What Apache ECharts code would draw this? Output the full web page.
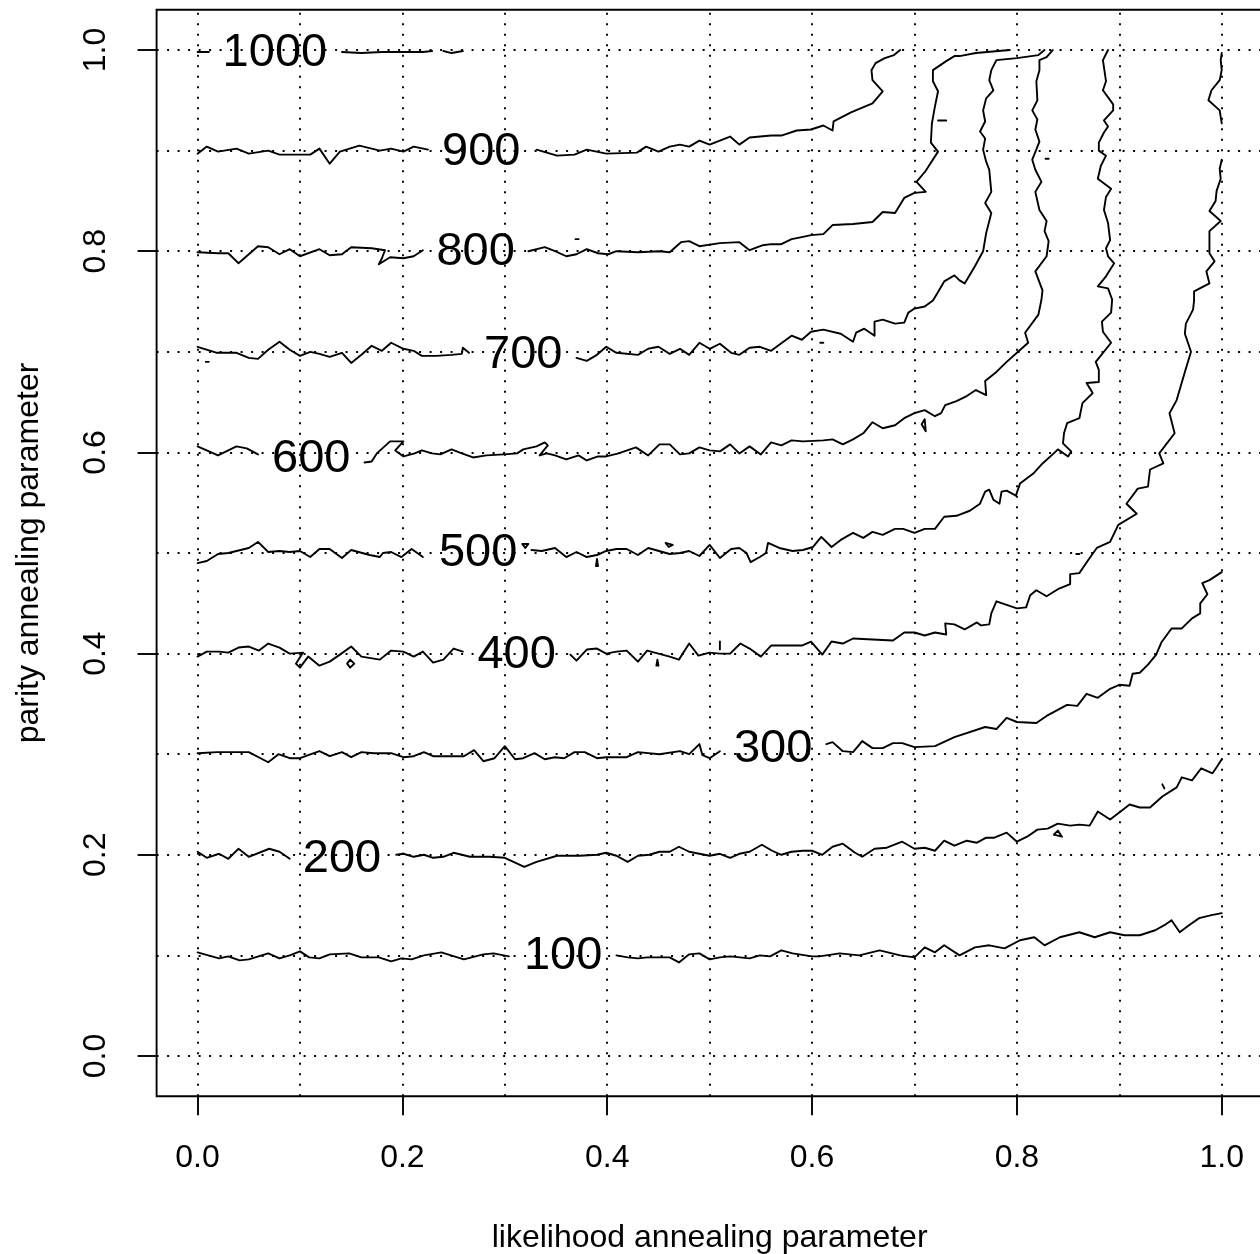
<!DOCTYPE html>
<html>
<head>
<meta charset="utf-8">
<script src="https://cdn.jsdelivr.net/npm/echarts@6/dist/echarts.min.js"></script>
<style>
html,body{margin:0;padding:0;background:#fff;}
#chart{width:1260px;height:1254px;}
</style>
</head>
<body>
<div id="chart"></div>
<script>
// ---- axis ticks and grid positions ----
const xTicks = [0, 0.2, 0.4, 0.6, 0.8, 1.0];
const yTicks = [0, 0.2, 0.4, 0.6, 0.8, 1.0];
const gridX = [0, 0.1, 0.2, 0.3, 0.4, 0.5, 0.6, 0.7, 0.8, 0.9, 1.0];
const gridY = [0, 0.1, 0.2, 0.3, 0.4, 0.5, 0.6, 0.7, 0.8, 0.9, 1.0];

// ---- contour labels: [x, y, level] ----
const contourLabels = [
  [0.0755, 0.997, '1000'], [0.277, 0.899, '900'], [0.2715, 0.799, '800'],
  [0.318, 0.697, '700'], [0.111, 0.593, '600'], [0.274, 0.500, '500'],
  [0.3115, 0.399, '400'], [0.562, 0.305, '300'], [0.141, 0.196, '200'],
  [0.357, 0.099, '100']
];

// ---- contour level 100 ----
const c100a = [[0,.103],[.021,.097],[.030,.099],[.041,.095],[.050,.096],[.069,.102],[.080,.097],[.090,.100],[.100,.104],[.109,.098],[.119,.097],[.129,.101],[.148,.102],[.160,.098],[.177,.098],[.189,.094],[.199,.097],[.209,.096],[.221,.100],[.238,.103],[.260,.096],[.279,.101],[.289,.102],[.304,.099]];
const c100b = [[.409,.100],[.420,.098],[.430,.097],[.439,.098],[.451,.098],[.461,.098],[.470,.093],[.480,.101],[.490,.102],[.500,.096],[.510,.098],[.520,.099],[.539,.097],[.549,.100],[.559,.099],[.570,.105],[.581,.102],[.600,.099],[.607,.099],[.627,.102],[.646,.100],[.666,.105],[.686,.100],[.700,.098],[.710,.108],[.720,.103],[.729,.110],[.744,.100],[.759,.108],[.773,.110],[.788,.107],[.803,.115],[.817,.118],[.827,.110],[.842,.118],[.861,.123],[.876,.118],[.891,.123],[.905,.120],[.920,.120],[.935,.125],[.944,.130],[.951,.135],[.959,.123],[.968,.130],[.978,.137],[.990,.140],[1.0,.142]];

// ---- contour level 200 ----
const c200a = [[0,.203],[.009,.197],[.021,.201],[.030,.196],[.040,.206],[.050,.198],[.070,.206],[.080,.203],[.090,.196]];
const c200b = [[.194,.200],[.201,.201],[.211,.198],[.221,.200],[.230,.197],[.240,.198],[.250,.202],[.266,.198],[.285,.198],[.300,.197],[.319,.188],[.331,.193],[.351,.199],[.373,.199],[.390,.200],[.399,.202],[.409,.199],[.420,.193],[.430,.199],[.441,.200],[.451,.203],[.461,.203],[.470,.208],[.480,.203],[.490,.201],[.500,.199],[.510,.201],[.520,.197],[.529,.201],[.539,.203],[.551,.210],[.561,.204],[.570,.200],[.580,.203],[.591,.204],[.600,.204],[.610,.200],[.620,.208],[.630,.211],[.642,.202],[.649,.198],[.661,.206],[.673,.207],[.688,.213],[.700,.206],[.710,.207],[.720,.204],[.729,.214],[.739,.209],[.751,.214],[.761,.212],[.770,.217],[.778,.217],[.790,.222],[.800,.213],[.810,.218],[.820,.225],[.830,.226],[.840,.231],[.852,.229],[.861,.230],[.871,.229],[.879,.243],[.891,.235],[.900,.242],[.910,.250],[.920,.247],[.930,.247],[.942,.258],[.956,.267],[.961,.277],[.971,.274],[.980,.286],[.991,.281],[.995,.287],[1.0,.295]];

// ---- contour level 300 ----
const c300a = [[0,.301],[.019,.302],[.038,.302],[.050,.302],[.069,.292],[.079,.300],[.090,.296],[.100,.296],[.119,.303],[.129,.298],[.141,.302],[.150,.297],[.160,.302],[.172,.301],[.189,.301],[.201,.297],[.211,.298],[.221,.302],[.230,.298],[.260,.298],[.270,.304],[.279,.293],[.290,.296],[.300,.308],[.310,.295],[.318,.296],[.329,.301],[.339,.295],[.349,.297],[.358,.296],[.368,.302],[.378,.302],[.390,.296],[.399,.297],[.419,.297],[.430,.302],[.451,.300],[.471,.303],[.480,.300],[.490,.310],[.493,.299],[.500,.296],[.510,.303]];
const c300b = [[.614,.310],[.620,.312],[.630,.303],[.640,.302],[.649,.313],[.659,.306],[.669,.306],[.679,.311],[.688,.311],[.700,.307],[.720,.308],[.739,.317],[.769,.327],[.780,.325],[.790,.336],[.800,.332],[.819,.331],[.829,.338],[.849,.349],[.859,.348],[.868,.360],[.879,.356],[.891,.365],[.900,.369],[.910,.368],[.913,.380],[.920,.381],[.928,.389],[.936,.399],[.941,.411],[.951,.425],[.961,.425],[.971,.435],[.979,.440],[.979,.450],[.986,.459],[.981,.470],[.988,.473],[1.0,.481]];

// ---- contour level 400 ----
const c400a = [[0,.397],[.009,.402],[.021,.402],[.030,.401],[.040,.406],[.050,.407],[.060,.403],[.069,.410],[.080,.406],[.090,.400],[.103,.401],[.096,.390],[.100,.386],[.108,.397],[.119,.388],[.129,.392],[.139,.399],[.150,.407],[.160,.397],[.178,.394],[.189,.403],[.201,.402],[.211,.397],[.220,.402],[.230,.391],[.240,.394],[.250,.405],[.259,.402]];
const c400b = [[.364,.399],[.370,.393],[.380,.404],[.390,.405],[.399,.400],[.409,.402],[.419,.403],[.430,.392],[.439,.403],[.461,.397],[.470,.394],[.480,.410],[.489,.398],[.500,.401],[.510,.400],[.520,.400],[.530,.410],[.539,.405],[.550,.397],[.560,.408],[.590,.408],[.599,.412],[.610,.399],[.619,.412],[.630,.410],[.640,.415],[.659,.414],[.679,.413],[.690,.421],[.700,.421],[.710,.418],[.720,.421],[.731,.419],[.730,.430],[.739,.429],[.749,.424],[.761,.431],[.765,.428],[.773,.429],[.775,.440],[.780,.452],[.800,.445],[.809,.446],[.813,.458],[.819,.463],[.829,.457],[.840,.464],[.852,.469],[.852,.479],[.861,.480],[.869,.492],[.878,.505],[.891,.511],[.899,.528],[.917,.539],[.907,.549],[.918,.564],[.928,.566],[.930,.583],[.943,.589],[.939,.599],[.954,.619],[.949,.639],[.956,.652],[.964,.680],[.970,.700],[.964,.718],[.965,.728],[.972,.742],[.973,.751],[.973,.760],[.988,.768],[.985,.780],[.993,.790],[.988,.798],[.988,.820],[.999,.830],[.988,.840],[.994,.850],[.995,.860],[.999,.872],[.998,.882],[1.0,.891]];
const c400c = [[1.0,.927],[.998,.940],[.987,.950],[.990,.960],[.998,.970],[1.0,.980],[.999,.990],[1.0,.997]];

// ---- contour level 500 ----
const c500a = [[0,.490],[.009,.492],[.020,.499],[.030,.500],[.050,.505],[.059,.511],[.069,.501],[.080,.502],[.090,.501],[.100,.502],[.110,.496],[.119,.504],[.129,.504],[.141,.495],[.150,.503],[.168,.498],[.178,.496],[.181,.500],[.189,.501],[.199,.496],[.209,.504],[.220,.496]];
const c500b = [[.326,.503],[.336,.502],[.349,.505],[.360,.496],[.370,.501],[.380,.496],[.390,.498],[.399,.502],[.409,.504],[.419,.504],[.430,.498],[.440,.505],[.461,.499],[.471,.500],[.480,.502],[.490,.497],[.500,.508],[.510,.495],[.521,.504],[.529,.505],[.536,.500],[.540,.491],[.549,.496],[.555,.500],[.557,.510],[.568,.505],[.581,.502],[.591,.503],[.601,.506],[.609,.516],[.619,.506],[.628,.513],[.640,.520],[.650,.515],[.659,.521],[.669,.518],[.681,.524],[.689,.524],[.700,.520],[.710,.524],[.720,.524],[.729,.536],[.741,.537],[.754,.542],[.764,.549],[.769,.561],[.773,.563],[.777,.553],[.783,.549],[.785,.561],[.790,.562],[.799,.557],[.803,.569],[.816,.579],[.825,.589],[.836,.599],[.840,.603],[.850,.596],[.853,.601],[.845,.609],[.846,.619],[.849,.629],[.861,.634],[.864,.649],[.874,.659],[.868,.669],[.880,.670],[.880,.682],[.877,.690],[.892,.709],[.884,.720],[.883,.730],[.892,.739],[.893,.752],[.889,.763],[.879,.765],[.887,.775],[.895,.788],[.889,.795],[.887,.803],[.891,.811],[.889,.828],[.885,.841],[.887,.854],[.892,.862],[.879,.872],[.882,.885],[.887,.895],[.880,.900],[.880,.908],[.885,.918],[.889,.924],[.885,.930],[.894,.940],[.894,.946],[.884,.960],[.887,.969],[.884,.990],[.889,1.0]];

// ---- contour level 600 ----
const c600a = [[0,.606],[.020,.597],[.038,.606],[.048,.604],[.059,.598]];
const c600b = [[.163,.590],[.170,.591],[.175,.599],[.188,.611],[.201,.611],[.193,.602],[.201,.596],[.212,.599],[.219,.602],[.229,.599],[.237,.598],[.248,.603],[.258,.599],[.269,.595],[.282,.597],[.299,.598],[.312,.599],[.318,.603],[.331,.606],[.339,.610],[.342,.607],[.334,.597],[.341,.599],[.349,.597],[.360,.593],[.372,.597],[.380,.592],[.391,.596],[.399,.596],[.411,.599],[.428,.605],[.440,.597],[.451,.608],[.461,.608],[.471,.598],[.480,.599],[.490,.605],[.500,.602],[.510,.601],[.520,.608],[.529,.599],[.539,.606],[.550,.598],[.560,.610],[.570,.607],[.580,.612],[.591,.611],[.611,.612],[.620,.613],[.630,.608],[.640,.613],[.650,.619],[.659,.630],[.669,.624],[.681,.627],[.690,.634],[.700,.639],[.710,.642],[.720,.636],[.726,.639],[.730,.647],[.741,.651],[.751,.656],[.760,.662],[.770,.657],[.769,.671],[.780,.680],[.790,.690],[.800,.699],[.811,.709],[.808,.719],[.821,.737],[.824,.752],[.825,.761],[.818,.780],[.829,.795],[.831,.810],[.827,.820],[.829,.830],[.822,.841],[.818,.859],[.824,.869],[.818,.881],[.815,.891],[.822,.909],[.818,.921],[.820,.931],[.815,.940],[.820,.950],[.819,.969],[.822,.980],[.822,.990],[.829,.993],[.835,1.0]];

// ---- contour level 700 ----
const c700a = [[0,.705],[.019,.699],[.038,.699],[.050,.694],[.059,.693],[.069,.702],[.080,.710],[.090,.702],[.100,.696],[.110,.700],[.119,.698],[.129,.695],[.141,.699],[.150,.689],[.160,.697],[.170,.706],[.180,.701],[.189,.709],[.201,.703],[.211,.701],[.219,.696],[.233,.696],[.248,.697],[.258,.698],[.259,.704],[.265,.699]];
const c700b = [[.370,.694],[.380,.691],[.390,.697],[.399,.705],[.409,.699],[.430,.697],[.440,.703],[.450,.705],[.461,.698],[.471,.703],[.480,.697],[.490,.709],[.500,.703],[.510,.708],[.521,.699],[.529,.697],[.539,.704],[.549,.705],[.560,.701],[.580,.716],[.590,.712],[.599,.720],[.611,.722],[.628,.718],[.640,.710],[.643,.719],[.651,.723],[.661,.716],[.661,.730],[.669,.732],[.681,.728],[.690,.729],[.694,.739],[.700,.743],[.710,.745],[.718,.751],[.721,.756],[.729,.770],[.739,.776],[.744,.771],[.749,.768],[.759,.785],[.767,.800],[.770,.818],[.775,.838],[.769,.848],[.775,.859],[.773,.881],[.770,.889],[.767,.901],[.769,.912],[.764,.919],[.769,.929],[.767,.940],[.770,.952],[.777,.960],[.773,.970],[.775,.980],[.780,.990],[.800,.992],[.821,.995],[.827,1.0]];

// ---- contour level 800 ----
const c800a = [[0,.799],[.020,.798],[.030,.798],[.040,.788],[.059,.805],[.069,.804],[.080,.797],[.090,.802],[.100,.795],[.119,.802],[.129,.796],[.141,.797],[.150,.804],[.170,.803],[.183,.801],[.180,.793],[.177,.787],[.188,.794],[.201,.793],[.211,.795],[.220,.801]];
const c800b = [[.323,.800],[.339,.804],[.349,.800],[.360,.795],[.370,.797],[.380,.802],[.391,.798],[.401,.797],[.409,.800],[.430,.799],[.451,.800],[.461,.799],[.472,.809],[.480,.810],[.490,.805],[.510,.808],[.529,.809],[.539,.801],[.552,.806],[.560,.807],[.570,.807],[.580,.812],[.590,.814],[.599,.816],[.611,.817],[.620,.826],[.640,.827],[.659,.829],[.669,.839],[.681,.838],[.690,.853],[.700,.858],[.711,.859],[.702,.869],[.711,.880],[.723,.899],[.716,.908],[.717,.927],[.720,.944],[.723,.959],[.718,.969],[.718,.980],[.731,.989],[.739,.994],[.744,.994],[.760,.997],[.793,1.0]];

// ---- contour level 900 ----
const c900a = [[0,.897],[.009,.904],[.020,.899],[.038,.902],[.050,.897],[.069,.900],[.080,.896],[.110,.896],[.119,.902],[.129,.887],[.139,.899],[.158,.905],[.178,.900],[.189,.902],[.201,.899],[.211,.904],[.225,.901]];
const c900b = [[.331,.901],[.351,.895],[.368,.896],[.380,.901],[.399,.897],[.429,.898],[.438,.904],[.450,.899],[.461,.904],[.471,.906],[.480,.904],[.490,.910],[.500,.906],[.520,.914],[.529,.906],[.539,.913],[.560,.915],[.570,.915],[.585,.920],[.599,.921],[.611,.925],[.620,.920],[.621,.929],[.638,.938],[.659,.947],[.669,.959],[.659,.970],[.658,.980],[.662,.987],[.671,.992],[.680,.995],[.686,1.0]];

// ---- contour level 1000 ----
const c1000a = [[0,.998],[.011,.998]];
const c1000b = [[.141,.998],[.160,.997],[.180,.998],[.200,.998],[.220,.998],[.229,.999]];
const c1000c = [[.240,.999],[.248,.997],[.259,.999]];

// ---- tiny closed contours ----
const small1 = [[.146,.390],[.149,.394],[.153,.390],[.149,.386],[.146,.390]];
const small2 = [[.448,.388],[.450,.388],[.449,.394],[.448,.388]];
const small3 = [[.510,.404],[.510,.412]];
const small4 = [[.389,.487],[.391,.487],[.390,.494],[.389,.487]];
const small5 = [[.457,.510],[.464,.508],[.460,.506],[.457,.510]];
const small6 = [[.317,.509],[.323,.509],[.320,.505],[.317,.509]];
const small7 = [[.707,.628],[.710,.633],[.711,.621],[.707,.628]];
const small8 = [[.836,.220],[.844,.218],[.840,.224],[.836,.220]];
const small9 = [[.942,.270],[.944,.266]];
const small10 = [[.723,.930],[.731,.930]];
const small11 = [[.008,.690],[.011,.690]];
const small12 = [[.608,.709],[.611,.709]];
const small13 = [[.369,.812],[.372,.812]];
const small14 = [[.828,.892],[.831,.892]];
const small15 = [[.858,.499],[.861,.499]];

const segments = [c100a,c100b,c200a,c200b,c300a,c300b,c400a,c400b,c400c,c500a,c500b,
  c600a,c600b,c700a,c700b,c800a,c800b,c900a,c900b,c1000a,c1000b,c1000c,
  small1,small2,small3,small4,small5,small6,small7,small8,small9,small10,small11,small12,small13,small14,small15];

const FONT = '"Liberation Sans", Arial, Helvetica, sans-serif';
const chart = echarts.init(document.getElementById('chart'), null, {renderer: 'canvas'});

const lineSeries = segments.map(seg => ({
  type: 'line', data: seg, showSymbol: false, symbol: 'none', smooth: false,
  silent: true, animation: false, z: 3,
  lineStyle: {color: '#000', width: 1.9, cap: 'round', join: 'round', opacity: 1}
}));

const labelSeries = {
  type: 'scatter', symbolSize: 0, silent: true, animation: false, z: 4,
  itemStyle: {opacity: 1},
  data: contourLabels.map(d => ({value: [d[0], d[1]], name: d[2]})),
  label: {show: true, position: 'inside', formatter: '{b}', fontSize: 47, color: '#000', opacity: 1, fontFamily: FONT},
  markLine: {
    silent: true, animation: false, symbol: ['none', 'none'], label: {show: false},
    lineStyle: {color: '#000', width: 1.9, type: [2, 8.5], opacity: 1},
    data: gridX.map(v => ({xAxis: v})).concat(gridY.map(v => ({yAxis: v})))
  }
};

chart.setOption({
  animation: false,
  backgroundColor: '#fff',
  grid: {left: 156.6, top: 9.8, width: 1106.1, height: 1086.4, show: true,
         borderColor: '#000', borderWidth: 1.9, backgroundColor: 'transparent',
         containLabel: false, outerBoundsMode: 'none'},
  xAxis: {
    type: 'value', min: -0.04, max: 1.04,
    axisLine: {show: false, onZero: false}, splitLine: {show: false},
    axisTick: {show: true, inside: false, customValues: xTicks, length: 19, lineStyle: {color: '#000', width: 1.9}},
    axisLabel: {customValues: xTicks, formatter: v => v.toFixed(1), fontSize: 32, color: '#000', fontFamily: FONT, margin: 46},
    name: 'likelihood annealing parameter', nameLocation: 'middle', nameGap: 126,
    nameTextStyle: {fontSize: 32, color: '#000', fontFamily: FONT}
  },
  yAxis: {
    type: 'value', min: -0.04, max: 1.04,
    axisLine: {show: false, onZero: false}, splitLine: {show: false},
    axisTick: {show: true, inside: false, customValues: yTicks, length: 19, lineStyle: {color: '#000', width: 1.9}},
    axisLabel: {customValues: yTicks, formatter: v => v.toFixed(1), fontSize: 32, color: '#000', fontFamily: FONT, margin: 44, rotate: 90},
    name: 'parity annealing parameter', nameLocation: 'middle', nameGap: 111, nameRotate: 90,
    nameTextStyle: {fontSize: 32, color: '#000', fontFamily: FONT}
  },
  series: lineSeries.concat([labelSeries])
});
</script>
</body>
</html>
